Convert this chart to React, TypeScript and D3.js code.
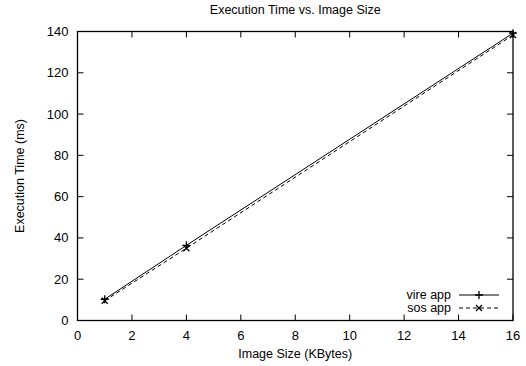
import React from "react";
import * as d3 from "d3";

const sizes = [1, 4, 16];
const vireApp = [10.3, 36.4, 139.2];
const sosApp = [9.6, 35.0, 138.3];
const xTicks = [0, 2, 4, 6, 8, 10, 12, 14, 16];
const yTicks = [0, 20, 40, 60, 80, 100, 120, 140];
const seriesNames = ["vire app", "sos app"];

const W = 526, H = 366;
const M = { left: 77.5, right: 513, top: 31.5, bottom: 320.5 };

export default function App() {
  const x = d3.scaleLinear().domain([0, 16]).range([M.left, M.right]);
  const y = d3.scaleLinear().domain([0, 140]).range([M.bottom, M.top]);
  const line = d3.line<number>().x((_, i) => x(sizes[i])).y((d) => y(d));
  const font = "'Liberation Sans', Arial, Helvetica, sans-serif";
  const tl = 6;
  const series = [
    { name: seriesNames[0], vals: vireApp, dash: undefined as string | undefined, marker: "plus" },
    { name: seriesNames[1], vals: sosApp, dash: "4,3", marker: "cross" },
  ];
  const mk = (kind: string, cx: number, cy: number, key: string) =>
    kind === "plus" ? (
      <path key={key} d={`M${cx - 4},${cy}H${cx + 4}M${cx},${cy - 4}V${cy + 4}`} stroke="#000" strokeWidth={1.3} />
    ) : (
      <path key={key} d={`M${cx - 3},${cy - 3}L${cx + 3},${cy + 3}M${cx - 3},${cy + 3}L${cx + 3},${cy - 3}`} stroke="#000" strokeWidth={1.3} />
    );
  return (
    <svg width={W} height={H} style={{ position: "absolute", left: 0, top: 0 }} fontFamily={font}>
      <rect width={W} height={H} fill="#fff" />
      <text x={(M.left + M.right) / 2} y={14} textAnchor="middle" fontSize={12.5} fill="#000">
        Execution Time vs. Image Size
      </text>
      {xTicks.map((t) => (
        <g key={"x" + t}>
          <line x1={x(t)} x2={x(t)} y1={M.bottom} y2={M.bottom - tl} stroke="#000" />
          <line x1={x(t)} x2={x(t)} y1={M.top} y2={M.top + tl} stroke="#000" />
          <text x={x(t)} y={M.bottom + 19} textAnchor="middle" fontSize={13} fill="#000">{t}</text>
        </g>
      ))}
      {yTicks.map((t) => (
        <g key={"y" + t}>
          <line x1={M.left} x2={M.left + tl} y1={y(t)} y2={y(t)} stroke="#000" />
          <line x1={M.right} x2={M.right - tl} y1={y(t)} y2={y(t)} stroke="#000" />
          <text x={M.left - 9} y={y(t) + 4.5} textAnchor="end" fontSize={13} fill="#000">{t}</text>
        </g>
      ))}
      <rect x={M.left} y={M.top} width={M.right - M.left} height={M.bottom - M.top} fill="none" stroke="#000" strokeWidth={1.3} />
      <text x={(M.left + M.right) / 2} y={358} textAnchor="middle" fontSize={12.5} fill="#000">Image Size (KBytes)</text>
      <text transform={`translate(24,${(M.top + M.bottom) / 2}) rotate(-90)`} textAnchor="middle" fontSize={12.5} fill="#000">
        Execution Time (ms)
      </text>
      {series.map((s) => (
        <g key={s.name}>
          <path d={line(s.vals) || ""} fill="none" stroke="#000" strokeWidth={1} strokeDasharray={s.dash} />
          {s.vals.map((v, i) => mk(s.marker, x(sizes[i]), y(v), s.name + i))}
        </g>
      ))}
      {series.map((s, i) => {
        const ly = 295 + i * 13;
        return (
          <g key={"leg" + s.name}>
            <text x={451} y={ly + 4.3} textAnchor="end" fontSize={12.5} fill="#000">{s.name}</text>
            <line x1={459} x2={499} y1={ly} y2={ly} stroke="#000" strokeWidth={1} strokeDasharray={s.dash} />
            {mk(s.marker, 479, ly, "lm" + i)}
          </g>
        );
      })}
    </svg>
  );
}
